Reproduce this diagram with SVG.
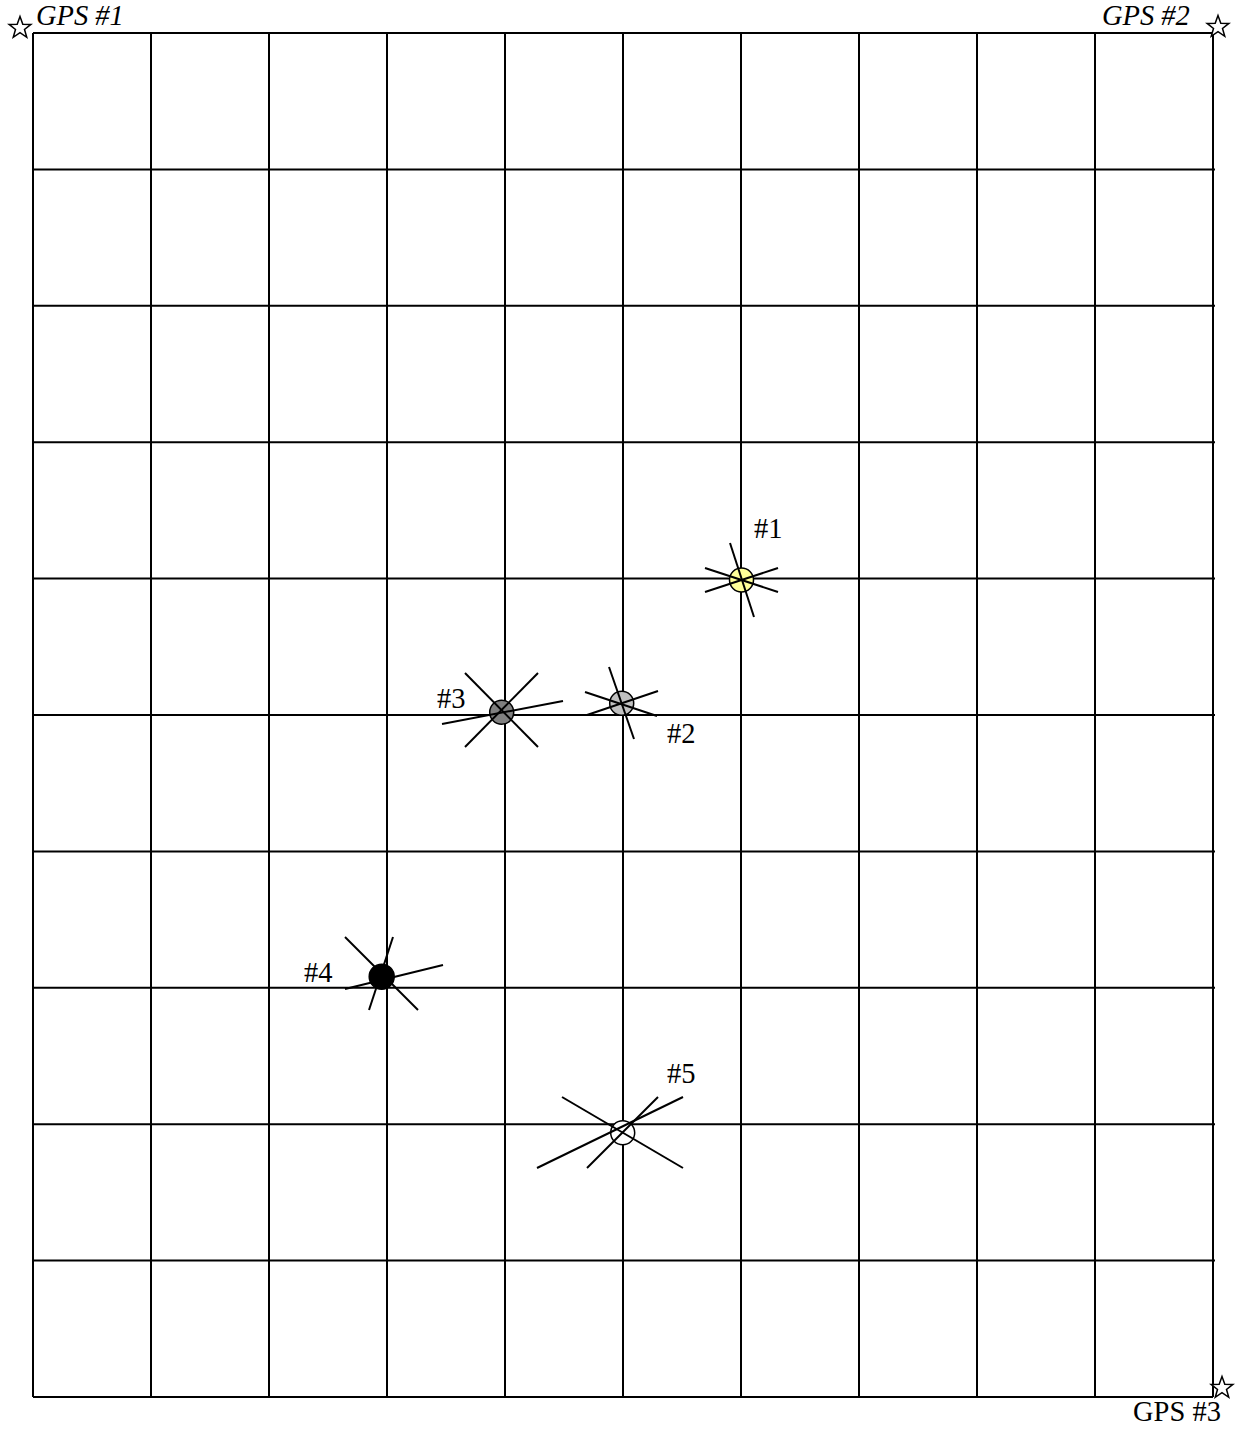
<svg xmlns="http://www.w3.org/2000/svg" xmlns:xlink="http://www.w3.org/1999/xlink" width="1244" height="1430" viewBox="0 0 1244 1430">
<style>
.grid line{stroke:#000;stroke-width:2}
.ray{stroke:#000;stroke-width:2}
.dot{stroke:#000;stroke-width:1.5}
.lbl{font-family:"Liberation Serif","Times New Roman",serif;font-size:28.5px;fill:#000}
.it{font-style:italic}
.star{fill:#fff;stroke:#000;stroke-width:1.5}
</style>
<defs>
<path id="star" d="M0,-11.5 L2.8,-3.8 L10.9,-3.55 L4.5,1.45 L6.75,9.3 L0,4.7 L-6.75,9.3 L-4.5,1.45 L-10.9,-3.55 L-2.8,-3.8 Z"/>
</defs>
<rect width="1244" height="1430" fill="#fff"/>
<g id="grid" class="grid">
<line x1="33" y1="33" x2="1213" y2="33"/>
<line x1="33" y1="169.4" x2="1215" y2="169.4"/>
<line x1="33" y1="305.8" x2="1215" y2="305.8"/>
<line x1="33" y1="442.2" x2="1215" y2="442.2"/>
<line x1="33" y1="578.6" x2="1215" y2="578.6"/>
<line x1="33" y1="715" x2="1215" y2="715"/>
<line x1="33" y1="851.4" x2="1215" y2="851.4"/>
<line x1="33" y1="987.8" x2="1215" y2="987.8"/>
<line x1="33" y1="1124.2" x2="1215" y2="1124.2"/>
<line x1="33" y1="1260.6" x2="1215" y2="1260.6"/>
<line x1="33" y1="1397" x2="1213" y2="1397"/>
<line x1="33" y1="33" x2="33" y2="1397"/>
<line x1="151" y1="33" x2="151" y2="1397"/>
<line x1="269" y1="33" x2="269" y2="1397"/>
<line x1="387" y1="33" x2="387" y2="1397"/>
<line x1="505" y1="33" x2="505" y2="1397"/>
<line x1="623" y1="33" x2="623" y2="1397"/>
<line x1="741" y1="33" x2="741" y2="1397"/>
<line x1="859" y1="33" x2="859" y2="1397"/>
<line x1="977" y1="33" x2="977" y2="1397"/>
<line x1="1095" y1="33" x2="1095" y2="1397"/>
<line x1="1213" y1="33" x2="1213" y2="1397"/>
</g>
<g id="gps1">
<use xlink:href="#star" href="#star" class="star" transform="translate(20,28)"/>
<text class="lbl it" x="36" y="25">GPS #1</text>
</g>
<g id="gps2">
<use xlink:href="#star" href="#star" class="star" transform="translate(1218,27)"/>
<text class="lbl it" x="1102" y="25">GPS #2</text>
</g>
<g id="gps3">
<use xlink:href="#star" href="#star" class="star" transform="translate(1222,1388)"/>
<text class="lbl" x="1133" y="1421">GPS #3</text>
</g>
<g id="p1">
<circle class="dot" cx="741.5" cy="580" r="12" fill="#ffff99"/>
<line class="ray" x1="730" y1="543" x2="754" y2="617"/>
<line class="ray" x1="705" y1="568" x2="778" y2="592"/>
<line class="ray" x1="705" y1="592" x2="778" y2="568"/>
<text class="lbl" x="754" y="538">#1</text>
</g>
<g id="p2">
<circle class="dot" cx="621.7" cy="703.3" r="12" fill="#c0c0c0"/>
<line class="ray" x1="609" y1="667" x2="634" y2="739"/>
<line class="ray" x1="585" y1="692" x2="657" y2="716"/>
<line class="ray" x1="587" y1="715" x2="658" y2="691"/>
<text class="lbl" x="667" y="743">#2</text>
</g>
<g id="p3">
<circle class="dot" cx="501.7" cy="712.3" r="12" fill="#808080"/>
<line class="ray" x1="465" y1="673" x2="538" y2="747"/>
<line class="ray" x1="538" y1="673" x2="465" y2="747"/>
<line class="ray" x1="442" y1="724" x2="563" y2="701"/>
<text class="lbl" x="437" y="708">#3</text>
</g>
<g id="p4">
<circle class="dot" cx="381.7" cy="976.7" r="12.5" fill="#000"/>
<line class="ray" x1="345" y1="937" x2="418" y2="1010"/>
<line class="ray" x1="393" y1="937" x2="369" y2="1010"/>
<line class="ray" x1="345" y1="989" x2="443" y2="965"/>
<text class="lbl" x="304" y="982">#4</text>
</g>
<g id="p5">
<circle class="dot" cx="622.7" cy="1132.7" r="12" fill="#fff"/>
<line class="ray" x1="562" y1="1097" x2="683" y2="1168"/>
<line class="ray" x1="537" y1="1168" x2="683" y2="1097"/>
<line class="ray" x1="587" y1="1168" x2="658" y2="1097"/>
<text class="lbl" x="667" y="1083">#5</text>
</g>
</svg>
